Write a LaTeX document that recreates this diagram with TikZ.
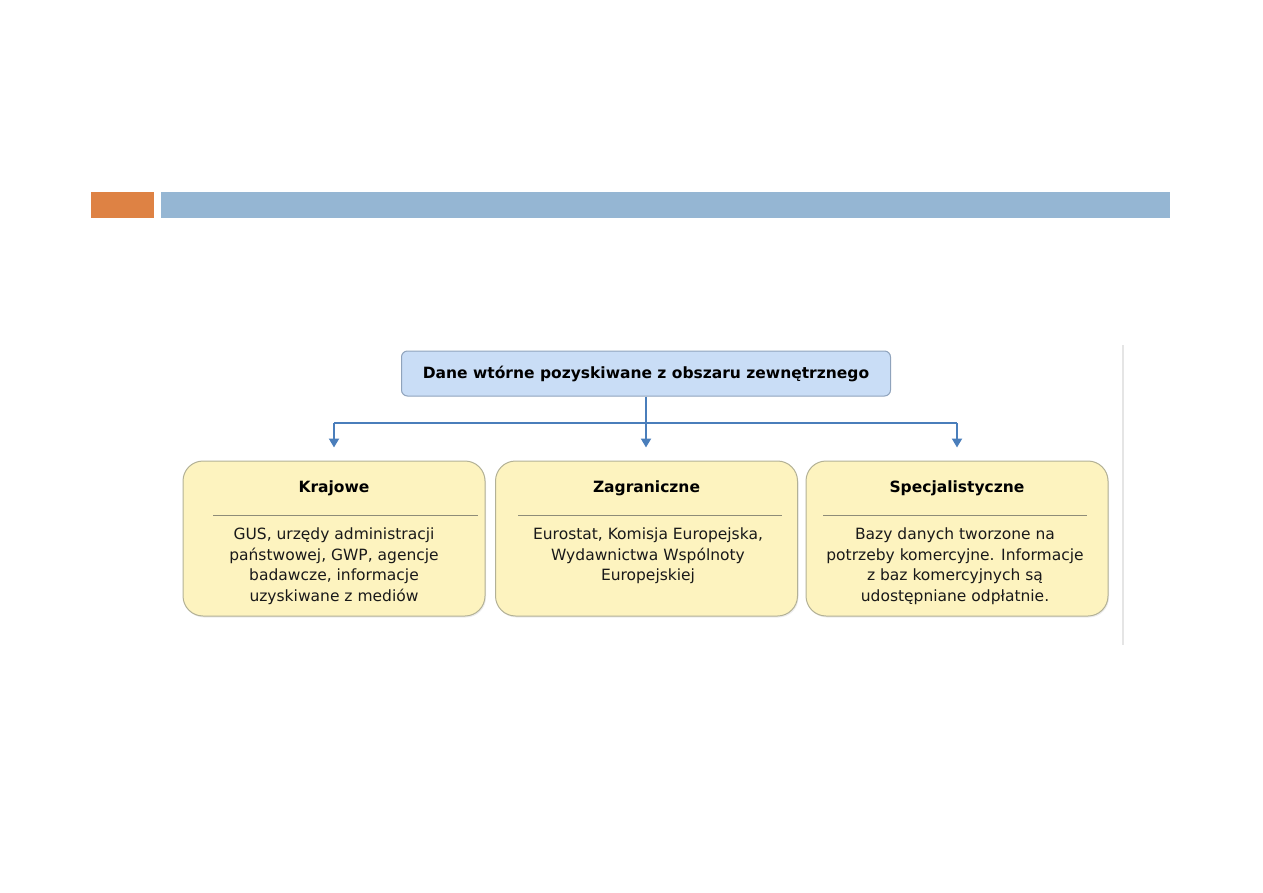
\documentclass[tikz,border=0pt]{standalone}
\usepackage{fontspec}
\setmainfont{DejaVu Sans}
\usepackage{tikz}
\usetikzlibrary{positioning, arrows.meta, calc, shadows}

\definecolor{barorange}{HTML}{DE8244}
\definecolor{barblue}{HTML}{95B6D3}
\definecolor{topfill}{HTML}{C9DDF6}
\definecolor{topdraw}{HTML}{8FA3BC}
\definecolor{boxfill}{HTML}{FDF3BF}
\definecolor{boxdraw}{HTML}{B3B196}
\definecolor{sepline}{HTML}{8E8C78}
\definecolor{connblue}{HTML}{4A7EBB}

\tikzset{
  headbox/.style={draw=topdraw, fill=topfill, rounded corners=6pt, line width=1pt,
    minimum width=489pt, minimum height=45pt, inner sep=0pt,
    font=\fontsize{15.5}{18}\selectfont\bfseries},
  srcbox/.style={draw=boxdraw, fill=boxfill, rounded corners=20pt, line width=1pt,
    minimum width=302pt, minimum height=155pt, inner sep=0pt,
    drop shadow={opacity=0.15, shadow xshift=1pt, shadow yshift=-1.5pt}},
  srctitle/.style={font=\fontsize{15.5}{18}\selectfont\bfseries, inner sep=0pt},
  srcbody/.style={align=center, inner sep=0pt, text=black!90,
    font=\fontsize{15.5}{20.5}\selectfont},
  conn/.style={draw=connblue, line width=2pt},
  connarrow/.style={conn, -{Triangle[length=9pt,width=10pt]}, shorten >=13pt}
}

\begin{document}
\begin{tikzpicture}[x=1pt, y=-1pt]
  % Frame
  \useasboundingbox (0,0) rectangle (1263,893);

  % Title bar
  \fill[barorange] (91,192) rectangle (154,218);
  \fill[barblue] (161,192) rectangle (1170,218);

  % Right edge line
  \draw[black!10, line width=2pt] (1123,345) -- (1123,645);

  % Top box
  \node[headbox] (top) at (646,373.5) {Dane wtórne pozyskiwane z obszaru zewnętrznego};

  % Source boxes
  \node[srcbox] (kraj) at (334,538.5) {};
  \node[srcbox] (zagr) at (646.5,538.5) {};
  \node[srcbox] (spec) at (957,538.5) {};

  % Titles
  \node[srctitle] (krajt) at (334,488) {Krajowe};
  \node[srctitle] (zagrt) at (646.5,488) {Zagraniczne};
  \node[srctitle] (spect) at (957,488) {Specjalistyczne};

  % Separators
  \draw[sepline, line width=1pt] (213,515) -- (478,515);
  \draw[sepline, line width=1pt] (518,515) -- (782,515);
  \draw[sepline, line width=1pt] (823,515) -- (1087,515);

  % Descriptions
  \node[srcbody, anchor=north] (krajb) at (334,528)
    {GUS, urzędy administracji\\państwowej, GWP, agencje\\badawcze, informacje\\uzyskiwane z mediów};
  \node[srcbody, anchor=north] (zagrb) at (648,528)
    {Eurostat, Komisja Europejska,\\Wydawnictwa Wspólnoty\\Europejskiej};
  \node[srcbody, anchor=north] (specb) at (955,528)
    {Bazy danych tworzone na\\potrzeby komercyjne. Informacje\\z baz komercyjnych są\\udostępniane odpłatnie.};

  % Connectors
  \coordinate (bus) at (646,423);
  \draw[conn] (kraj.north |- bus) -- (spec.north |- bus);
  \draw[connarrow] (top.south) -- (top.south |- zagr.north);
  \draw[connarrow] (kraj.north |- bus) -- (kraj.north);
  \draw[connarrow] (spec.north |- bus) -- (spec.north);
\end{tikzpicture}
\end{document}
